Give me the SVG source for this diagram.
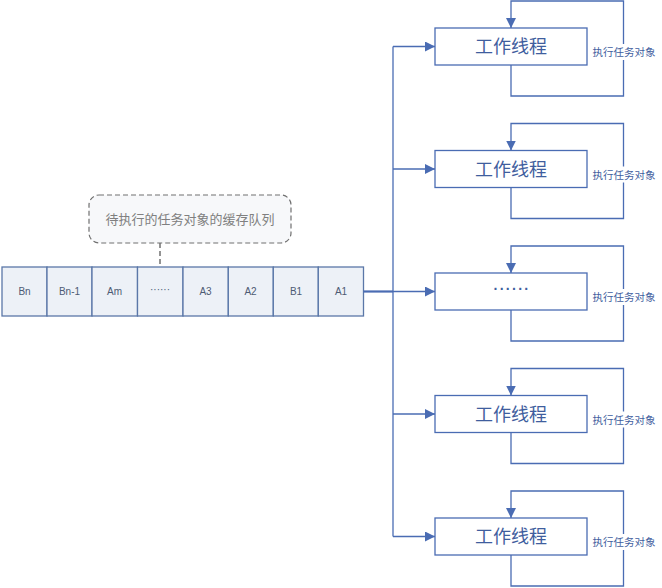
<svg xmlns="http://www.w3.org/2000/svg" width="662" height="588" viewBox="0 0 662 588">
<defs>
<style>
.cell{fill:#edf1f7;stroke:#5b77a8;stroke-width:1.3}
.ct{font-family:"Liberation Sans","Noto Sans CJK SC",sans-serif;font-size:10px;fill:#4d5b74;text-anchor:middle}
.box{fill:#fff;stroke:#4a6cb3;stroke-width:1.3}
.bt{font-family:"Noto Sans CJK SC",sans-serif;font-size:18px;fill:#3f5e9e;text-anchor:middle}
.lt{font-family:"Noto Sans CJK SC",sans-serif;font-size:10.5px;fill:#3f5e9e;text-anchor:middle}
.ln{fill:none;stroke:#4a6cb3;stroke-width:1.3}
</style>
<marker id="ah" viewBox="0 0 10 10" refX="10" refY="5" markerWidth="10" markerHeight="10" markerUnits="userSpaceOnUse" orient="auto">
<path d="M0,0 L10,5 L0,10 z" fill="#4a6cb3"/>
</marker>
</defs>
<rect width="662" height="588" fill="#fff"/>

<g id="callout">
<rect x="89" y="195" width="202" height="48" rx="10" ry="10" fill="#f7f8fa" stroke="#707070" stroke-width="1.2" stroke-dasharray="5,3"/>
<text x="190" y="224" font-family="Noto Sans CJK SC,sans-serif" font-size="13" fill="#808080" text-anchor="middle">待执行的任务对象的缓存队列</text>
</g>

<g id="queue">
<rect class="cell" x="2" y="267" width="45" height="49"/>
<rect class="cell" x="47" y="267" width="45" height="49"/>
<rect class="cell" x="92" y="267" width="45.5" height="49"/>
<rect class="cell" x="137.5" y="267" width="45.5" height="49"/>
<rect class="cell" x="183" y="267" width="45.3" height="49"/>
<rect class="cell" x="228.3" y="267" width="45" height="49"/>
<rect class="cell" x="273.3" y="267" width="45" height="49"/>
<rect class="cell" x="318.3" y="267" width="45.2" height="49"/>
<text class="ct" x="24.5" y="295">Bn</text>
<text class="ct" x="69.5" y="295">Bn-1</text>
<text class="ct" x="114.5" y="295">Am</text>
<text class="ct" x="160" y="293">······</text>
<text class="ct" x="205.5" y="295">A3</text>
<text class="ct" x="250.5" y="295">A2</text>
<text class="ct" x="296" y="295">B1</text>
<text class="ct" x="341" y="295">A1</text>
</g>

<g id="connectors">
<line x1="160" y1="243" x2="160" y2="267" stroke="#707070" stroke-width="1.5" stroke-dasharray="5,3"/>
<line x1="363.5" y1="291.5" x2="393" y2="291.5" stroke="#4a6cb3" stroke-width="2.2"/>
<path class="ln" d="M393,46.5 V536.5"/>
<line class="ln" x1="393" y1="46.5" x2="435" y2="46.5" marker-end="url(#ah)"/>
<line class="ln" x1="393" y1="169" x2="435" y2="169" marker-end="url(#ah)"/>
<line class="ln" x1="393" y1="291.5" x2="435" y2="291.5" marker-end="url(#ah)"/>
<line class="ln" x1="393" y1="414" x2="435" y2="414" marker-end="url(#ah)"/>
<line class="ln" x1="393" y1="536.5" x2="435" y2="536.5" marker-end="url(#ah)"/>
<path class="ln" d="M511,65 V96 H623.5 V1 H511 V28" marker-end="url(#ah)"/>
<path class="ln" d="M511,187.5 V218.5 H623.5 V123.5 H511 V150.5" marker-end="url(#ah)"/>
<path class="ln" d="M511,310 V341 H623.5 V246 H511 V273" marker-end="url(#ah)"/>
<path class="ln" d="M511,432.5 V463.5 H623.5 V368.5 H511 V395.5" marker-end="url(#ah)"/>
<path class="ln" d="M511,555 V586 H623.5 V491 H511 V518" marker-end="url(#ah)"/>
</g>

<g id="worker1">
<rect class="box" x="435" y="28" width="152" height="37"/>
<text class="bt" x="511" y="53">工作线程</text>
<rect x="591" y="44" width="66" height="16" fill="#fff"/>
<text class="lt" x="624" y="56">执行任务对象</text>
</g>
<g id="worker2">
<rect class="box" x="435" y="150.5" width="152" height="37"/>
<text class="bt" x="511" y="175.5">工作线程</text>
<rect x="591" y="166.5" width="66" height="16" fill="#fff"/>
<text class="lt" x="624" y="178.5">执行任务对象</text>
</g>
<g id="worker3">
<rect class="box" x="435" y="273" width="152" height="37"/>
<text x="512" y="294" font-family="Liberation Sans,sans-serif" font-size="14" font-weight="bold" letter-spacing="1.5" fill="#3f5e9e" text-anchor="middle">······</text>
<rect x="591" y="289" width="66" height="16" fill="#fff"/>
<text class="lt" x="624" y="301">执行任务对象</text>
</g>
<g id="worker4">
<rect class="box" x="435" y="395.5" width="152" height="37"/>
<text class="bt" x="511" y="420.5">工作线程</text>
<rect x="591" y="411.5" width="66" height="16" fill="#fff"/>
<text class="lt" x="624" y="423.5">执行任务对象</text>
</g>
<g id="worker5">
<rect class="box" x="435" y="518" width="152" height="37"/>
<text class="bt" x="511" y="543">工作线程</text>
<rect x="591" y="534" width="66" height="16" fill="#fff"/>
<text class="lt" x="624" y="546">执行任务对象</text>
</g>
</svg>
